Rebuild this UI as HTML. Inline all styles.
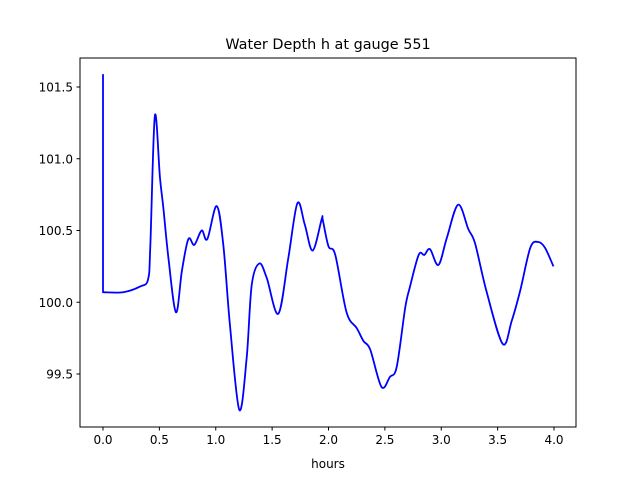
<!DOCTYPE html>
<html><head><meta charset="utf-8"><style>
body{margin:0;background:#fff}
svg text{font-family:"DejaVu Sans","Liberation Sans",sans-serif;fill:#000}
</style></head><body>
<svg width="640" height="480" viewBox="0 0 640 480">
<rect width="640" height="480" fill="#fff"/>
<text x="328" y="49" font-size="14.4" text-anchor="middle">Water Depth h at gauge 551</text>
<g id="plot"></g>
<g id="axes"></g>
<text x="328" y="468" font-size="12" text-anchor="middle">hours</text>
</svg>
<script>
const xs=[0,0,0.18,0.33,0.40,0.42,0.46,0.505,0.535,0.58,0.647,0.70,0.757,0.81,0.875,0.925,1.008,1.067,1.126,1.209,1.274,1.319,1.386,1.452,1.555,1.644,1.724,1.79,1.86,1.94,1.95,2.0,2.06,2.16,2.25,2.31,2.37,2.47,2.545,2.605,2.68,2.72,2.80,2.85,2.90,2.975,3.05,3.15,3.24,3.30,3.40,3.545,3.625,3.70,3.79,3.86,3.92,3.995];
const ys=[101.59,100.07,100.07,100.11,100.16,100.40,101.30,100.87,100.66,100.31,99.93,100.22,100.44,100.40,100.50,100.44,100.67,100.40,99.84,99.25,99.61,100.12,100.27,100.17,99.92,100.31,100.69,100.54,100.36,100.58,100.57,100.39,100.33,99.93,99.82,99.73,99.67,99.41,99.48,99.55,99.96,100.10,100.33,100.33,100.37,100.26,100.45,100.68,100.51,100.41,100.08,99.71,99.87,100.08,100.38,100.42,100.38,100.25];
const xTicks=[0,0.5,1,1.5,2,2.5,3,3.5,4];
const xTickLabels=["0.0","0.5","1.0","1.5","2.0","2.5","3.0","3.5","4.0"];
const yTicks=[99.5,100,100.5,101,101.5];
const yTickLabels=["99.5","100.0","100.5","101.0","101.5"];
const L=80,R=576,T=58,B=427;
const sx=v=>103+112.75*v;
const sy=v=>87+(101.5-v)*143.5;
const NS="http://www.w3.org/2000/svg";
const plot=document.getElementById('plot'),axes=document.getElementById('axes');
function mk(t,a,p){const e=document.createElementNS(NS,t);for(const k in a)e.setAttribute(k,a[k]);p.appendChild(e);return e;}
// smooth path via Catmull-Rom (straight first segment)
const P=xs.map((x,i)=>[sx(x),sy(ys[i])]);
let d=`M${P[0][0]},${P[0][1]} L${P[1][0]},${P[1][1]}`;
for(let i=1;i<P.length-1;i++){
 const p0=P[Math.max(1,i-1)],p1=P[i],p2=P[i+1],p3=P[Math.min(P.length-1,i+2)];
 const c1=[p1[0]+(p2[0]-p0[0])/6,p1[1]+(p2[1]-p0[1])/6];
 const c2=[p2[0]-(p3[0]-p1[0])/6,p2[1]-(p3[1]-p1[1])/6];
 d+=` C${c1[0]},${c1[1]} ${c2[0]},${c2[1]} ${p2[0]},${p2[1]}`;
}
const line=mk('path',{d:d,fill:'none',stroke:'#0000ff','stroke-width':1.8,'stroke-linejoin':'round'},plot);


const fr=mk('rect',{x:L,y:T,width:R-L,height:B-T,fill:'none',stroke:'#000','stroke-width':1},axes);


xTicks.forEach((v,i)=>{
 const x=sx(v);
 const t=mk('line',{x1:x,x2:x,y1:B,y2:B+3.5,stroke:'#000'},axes);
 
 
 const l=mk('text',{x:x,y:B+17,'font-size':12,'text-anchor':'middle'},axes);
 l.textContent=xTickLabels[i];
 
 
});
yTicks.forEach((v,i)=>{
 const y=sy(v);
 const t=mk('line',{x1:L-3.5,x2:L,y1:y,y2:y,stroke:'#000'},axes);
 
 
 const l=mk('text',{x:L-7,y:y+4.5,'font-size':12,'text-anchor':'end'},axes);
 l.textContent=yTickLabels[i];
 
 
});
</script>
</body></html>
